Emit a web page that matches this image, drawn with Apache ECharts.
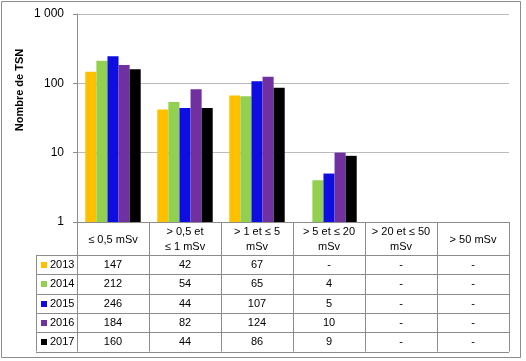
<!DOCTYPE html>
<html><head><meta charset="utf-8">
<script src="https://cdn.jsdelivr.net/npm/echarts@6/dist/echarts.min.js"></script>
<style>html,body{margin:0;padding:0;background:#fff}#c{width:526px;height:361px}</style>
</head><body><div id="c"></div>
<script>
var categories = ["≤ 0,5 mSv", "> 0,5 et\n≤ 1 mSv", "> 1 et ≤ 5\nmSv", "> 5 et ≤ 20\nmSv", "> 20 et ≤ 50\nmSv", "> 50 mSv"];
var years = ["2013", "2014", "2015", "2016", "2017"];
var s2013 = [147, 42, 67, null, null, null];
var s2014 = [212, 54, 65, 4, null, null];
var s2015 = [246, 44, 107, 5, null, null];
var s2016 = [184, 82, 124, 10, null, null];
var s2017 = [160, 44, 86, 9, null, null];
var seriesData = [s2013, s2014, s2015, s2016, s2017];
var colors = ["#FFC000", "#92D050", "#0E0EE0", "#7030A0", "#000000"];
var yTicks = [1, 10, 100, 1000];

var FONT = "Liberation Sans";
var gridL = 77, gridR = 17, gridT = 14, gridB = 139;
var chart = echarts.init(document.getElementById('c'), null, {renderer: 'canvas'});

var series = years.map(function (y, i) {
  return {
    name: y, type: 'bar', data: seriesData[i],
    barGap: '0%', barCategoryGap: '23%',
    itemStyle: {color: colors[i]}
  };
});

chart.setOption({
  animation: false,
  textStyle: {fontFamily: FONT},
  grid: {left: gridL, right: gridR, top: gridT, bottom: gridB},
  xAxis: {
    type: 'category', data: categories,
    axisLine: {lineStyle: {color: '#8C8C8C'}},
    axisTick: {show: false},
    axisLabel: {show: false}
  },
  yAxis: {
    type: 'log', logBase: 10, min: 1, max: 1000,
    axisLine: {show: true, lineStyle: {color: '#8C8C8C'}},
    axisTick: {show: true, inside: false, length: 4, lineStyle: {color: '#8C8C8C'}},
    minorTick: {show: false},
    splitLine: {show: true, lineStyle: {color: '#BBBBBB'}},
    axisLabel: {
      margin: 13, color: '#000', fontSize: 12, fontFamily: FONT,
      formatter: function (v) { return v >= 1000 ? String(v).replace(/(\d)(\d{3})$/, '$1 $2') : String(v); }
    }
  },
  series: series
});

// Build the data table as graphics, positioned from the axis scale
var x0 = chart.convertToPixel({xAxisIndex: 0}, 0);
var x1 = chart.convertToPixel({xAxisIndex: 0}, 1);
var cw = x1 - x0;
var left = x0 - cw / 2;
var right = left + cw * categories.length;
var axisY = chart.convertToPixel({yAxisIndex: 0}, 1);
var headerBottom = axisY + 33;
var rowH = 19.3;
var tableLeft = 36;
var tableBottom = headerBottom + rowH * years.length;
var lc = '#8C8C8C';
var g = [];
function line(xa, ya, xb, yb) {
  g.push({type: 'line', shape: {x1: xa, y1: ya, x2: xb, y2: yb}, style: {stroke: lc, lineWidth: 1}, silent: true});
}
for (var r = 0; r <= years.length; r++) {
  var yy = Math.round(headerBottom + rowH * r) + 0.5;
  line(tableLeft, yy, right, yy);
}
line(tableLeft + 0.5, headerBottom, tableLeft + 0.5, tableBottom);
for (var c = 0; c <= categories.length; c++) {
  var xx = Math.round(left + cw * c) + 0.5;
  line(xx, axisY, xx, tableBottom);
}
categories.forEach(function (cat, i) {
  g.push({type: 'text', x: left + cw * i + cw / 2, y: (axisY + headerBottom) / 2 + 1,
    style: {text: cat, align: 'center', verticalAlign: 'middle', fontSize: 11, lineHeight: 15, fontFamily: FONT, fill: '#000'}});
});
years.forEach(function (yr, r) {
  var cy = headerBottom + rowH * r + rowH / 2 + 0.5;
  g.push({type: 'rect', shape: {x: 41, y: Math.round(cy) - 3, width: 6, height: 6}, style: {fill: colors[r]}});
  g.push({type: 'text', x: 50, y: cy, style: {text: yr, align: 'left', verticalAlign: 'middle', fontSize: 11, fontFamily: FONT, fill: '#000'}});
  seriesData[r].forEach(function (v, i) {
    g.push({type: 'text', x: left + cw * i + cw / 2, y: cy,
      style: {text: v == null ? '-' : String(v), align: 'center', verticalAlign: 'middle', fontSize: 11, fontFamily: FONT, fill: '#000'}});
  });
});
g.push({type: 'text', x: 20, y: 90, rotation: Math.PI / 2,
  style: {text: 'Nombre de TSN', align: 'center', verticalAlign: 'middle', fontSize: 11, fontWeight: 'bold', fontFamily: FONT, fill: '#000'}});
g.push({type: 'rect', shape: {x: 1.5, y: 1.5, width: 519, height: 356}, style: {fill: 'none', stroke: '#8C8C8C', lineWidth: 1}, silent: true});

chart.setOption({graphic: g});
</script>
</body></html>
